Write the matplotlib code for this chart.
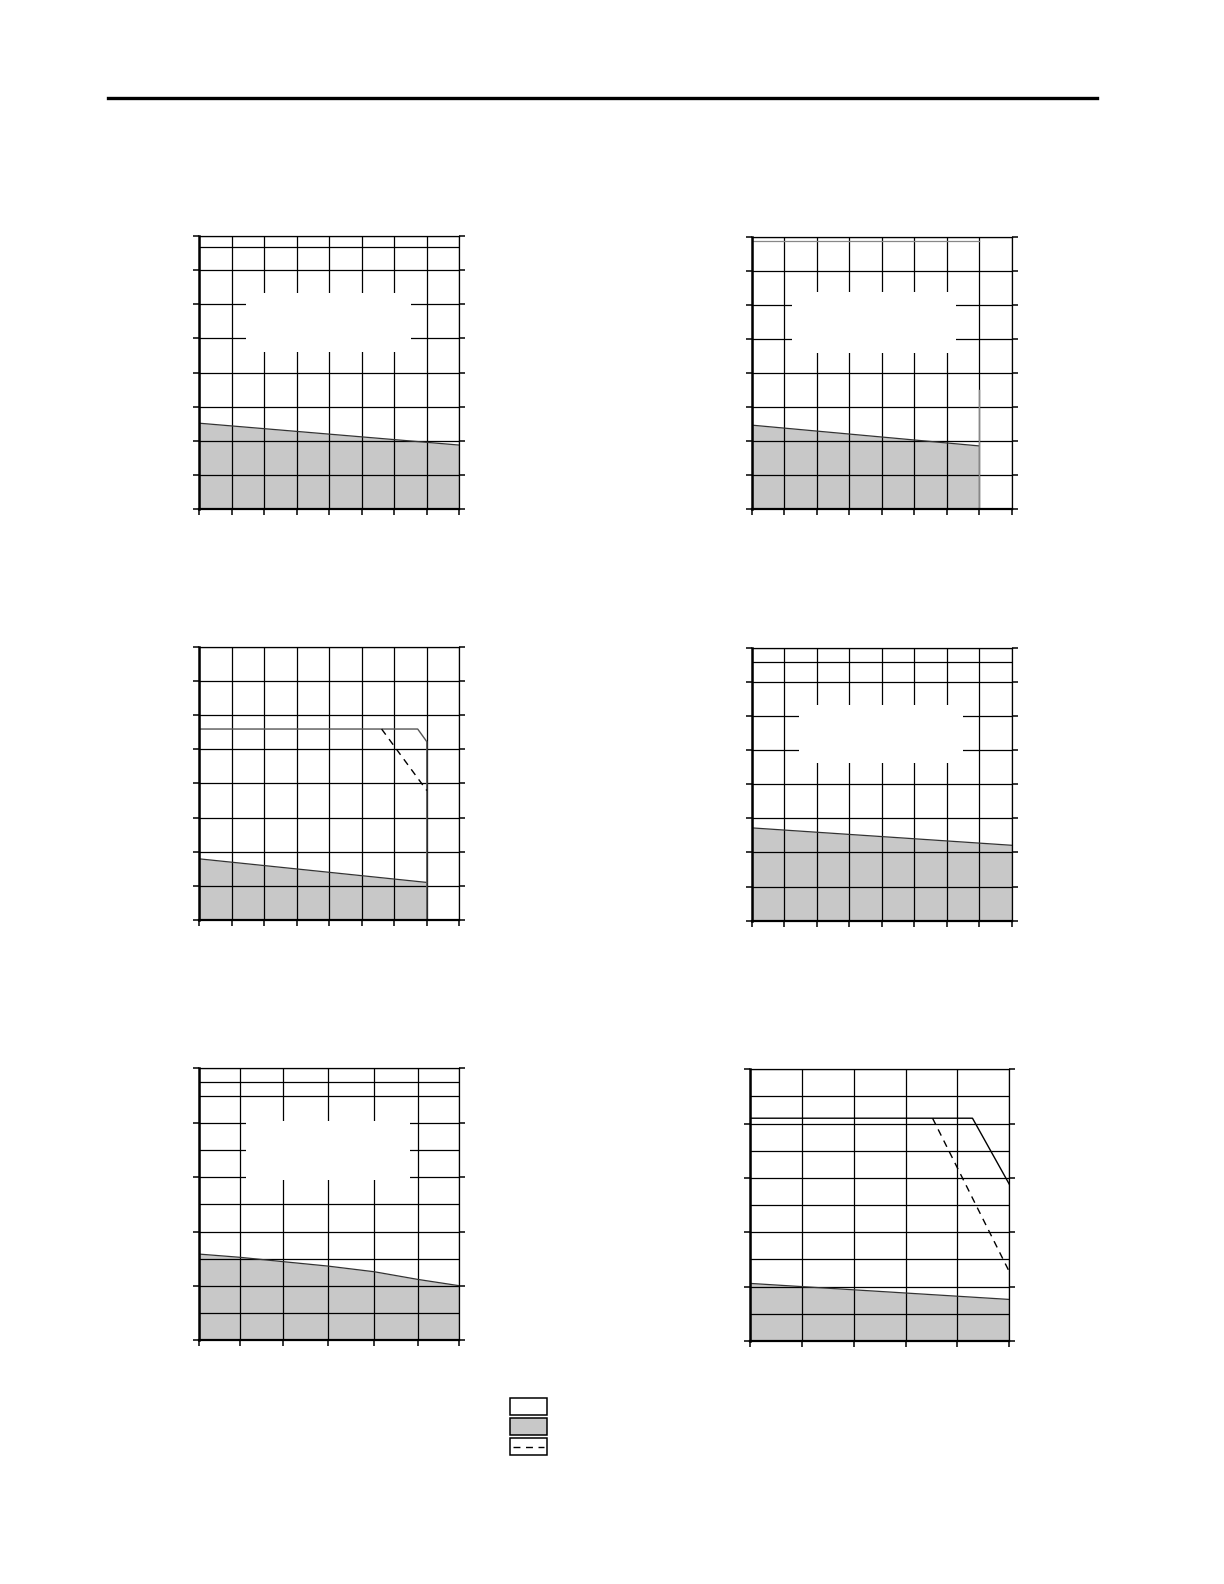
import numpy as np
import matplotlib
matplotlib.use('Agg')
import matplotlib.pyplot as plt
from matplotlib.patches import Rectangle
from matplotlib.lines import Line2D

plt.rcParams['font.family'] = ['DejaVu Sans']

W, H = 1224, 1584

# ---- data ----
# panel 1 (top left)
p1_x = [0, 8]
p1_fill = [2.52, 1.88]
# panel 2 (top right)
p2_x = [0, 7]
p2_fill = [2.47, 1.86]
# panel 3 (middle left)
p3_x = [0, 7]
p3_fill = [1.79, 1.10]
p3_solid_x = [0, 6.72, 7.0, 7.0]
p3_solid_y = [5.59, 5.59, 5.22, 0]
p3_dash_x = [5.61, 7.0]
p3_dash_y = [5.59, 3.79]
# panel 4 (middle right)
p4_x = [0, 8]
p4_fill = [2.72, 2.21]
# panel 5 (bottom left)
p5_x = [0, 0.955, 1.95, 2.97, 4.05, 5.05, 6]
p5_fill = [3.17, 3.05, 2.89, 2.73, 2.52, 2.24, 2.01]
# panel 6 (bottom right)
p6_x = [0, 5]
p6_fill = [2.12, 1.53]
p6_solid_x = [0, 4.29, 5.0]
p6_solid_y = [8.2, 8.2, 5.77]
p6_dash_x = [3.52, 5.0]
p6_dash_y = [8.2, 2.55]

grid8 = list(range(0, 9))
grid10 = list(range(0, 11))
p5_xgrid = p5_x
p6_xgrid = list(range(0, 6))

fill_color = '#c8c8c8'

fig = plt.figure(figsize=(W / 100, H / 100), dpi=100)


def make_ax(left, right, top, bottom):
    return fig.add_axes([left / W, 1 - bottom / H, (right - left) / W, (bottom - top) / H])


def panel(ax, xmax, ymax, xgrid, ygrid, yticks, extra_h=None, extra_h_xmax=None,
          extra_color='black', gap=None):
    ax.set_xlim(0, xmax)
    ax.set_ylim(0, ymax)
    for g in xgrid:
        ax.axvline(g, color='black', lw=0.9, zorder=2)
    for g in ygrid:
        ax.axhline(g, color='black', lw=0.9, zorder=2)
    if extra_h is not None:
        xm = xmax if extra_h_xmax is None else extra_h_xmax
        ax.plot([0, xm], [extra_h, extra_h], color=extra_color, lw=0.9, zorder=2)
    # blank region (text was here)
    if gap is not None:
        x0, x1, y0, y1 = gap
        ax.add_patch(Rectangle((x0, y0), x1 - x0, y1 - y0, facecolor='white',
                               edgecolor='none', zorder=3))
    ax.set_xticks(xgrid)
    ax.set_yticks(yticks)
    ax.tick_params(axis='both', direction='out', length=4, width=1.1,
                   left=True, right=True, bottom=True, top=False,
                   labelleft=False, labelbottom=False)
    for s in ax.spines.values():
        s.set_linewidth(0.9)
        s.set_zorder(5)
    ax.spines['left'].set_linewidth(1.8)
    ax.spines['bottom'].set_linewidth(1.6)


def shade(ax, x, y):
    ax.fill_between(x, 0, y, color=fill_color, lw=0, zorder=1)
    ax.plot(x, y, color='#333333', lw=0.9, zorder=4)


# panel 1
ax1 = make_ax(199.3, 459.3, 236, 509.3)
panel(ax1, 8, 8, grid8, grid8, grid8, extra_h=7.67, gap=(1.45, 6.52, 4.6, 6.34))
shade(ax1, p1_x, p1_fill)

# panel 2
ax2 = make_ax(751.7, 1011.7, 236.7, 509.3)
panel(ax2, 8, 8, grid8, grid8, grid8, extra_h=7.87, extra_h_xmax=7,
      extra_color='#888888', gap=(1.23, 6.29, 4.6, 6.37))
shade(ax2, p2_x, p2_fill)
ax2.plot([7, 7], [0, 3.5], color='#888888', lw=1.0, zorder=4)

# panel 3
ax3 = make_ax(199.3, 459.3, 646.7, 920)
panel(ax3, 8, 8, grid8, grid8, grid8)
shade(ax3, p3_x, p3_fill)
ax3.plot(p3_solid_x, p3_solid_y, color='#555555', lw=1.0, zorder=4)
ax3.plot(p3_dash_x, p3_dash_y, color='black', lw=1.0, ls=(0, (5, 4)), zorder=4)

# panel 4
ax4 = make_ax(751.7, 1011.7, 647.7, 920.7)
panel(ax4, 8, 8, grid8, grid8, grid8, extra_h=7.57, gap=(1.45, 6.51, 4.63, 6.32))
shade(ax4, p4_x, p4_fill)

# panel 5
ax5 = make_ax(199, 458.7, 1068.3, 1340.3)
panel(ax5, 6, 10, p5_xgrid, grid10, list(range(0, 11, 2)), extra_h=9.5,
      gap=(1.08, 4.88, 5.89, 8.06))
shade(ax5, p5_x, p5_fill)

# panel 6
ax6 = make_ax(750, 1009.3, 1069.3, 1341)
panel(ax6, 5, 10, p6_xgrid, grid10, list(range(0, 11, 2)))
shade(ax6, p6_x, p6_fill)
ax6.plot(p6_solid_x, p6_solid_y, color='black', lw=1.0, zorder=4)
ax6.plot(p6_dash_x, p6_dash_y, color='black', lw=1.0, ls=(0, (5, 4)), zorder=4)

# header rule
fig.add_artist(Line2D([108 / W, 1097 / W], [1 - 98 / H, 1 - 98 / H],
                      color='black', lw=2.4, transform=fig.transFigure))

# legend boxes (no text)
leg_l, leg_r = 510.3, 546.7
leg_rows = [(1398, 1415, 'white'), (1418, 1435, fill_color), (1438, 1455, 'white')]
for top, bot, fc in leg_rows:
    fig.add_artist(Rectangle((leg_l / W, 1 - bot / H), (leg_r - leg_l) / W, (bot - top) / H,
                             facecolor=fc, edgecolor='black', lw=1.1,
                             transform=fig.transFigure))
fig.add_artist(Line2D([513 / W, 544 / W], [1 - 1447 / H, 1 - 1447 / H], color='black',
                      lw=1.0, ls=(0, (5, 4)), transform=fig.transFigure))

plt.savefig('out.png', dpi=100)
